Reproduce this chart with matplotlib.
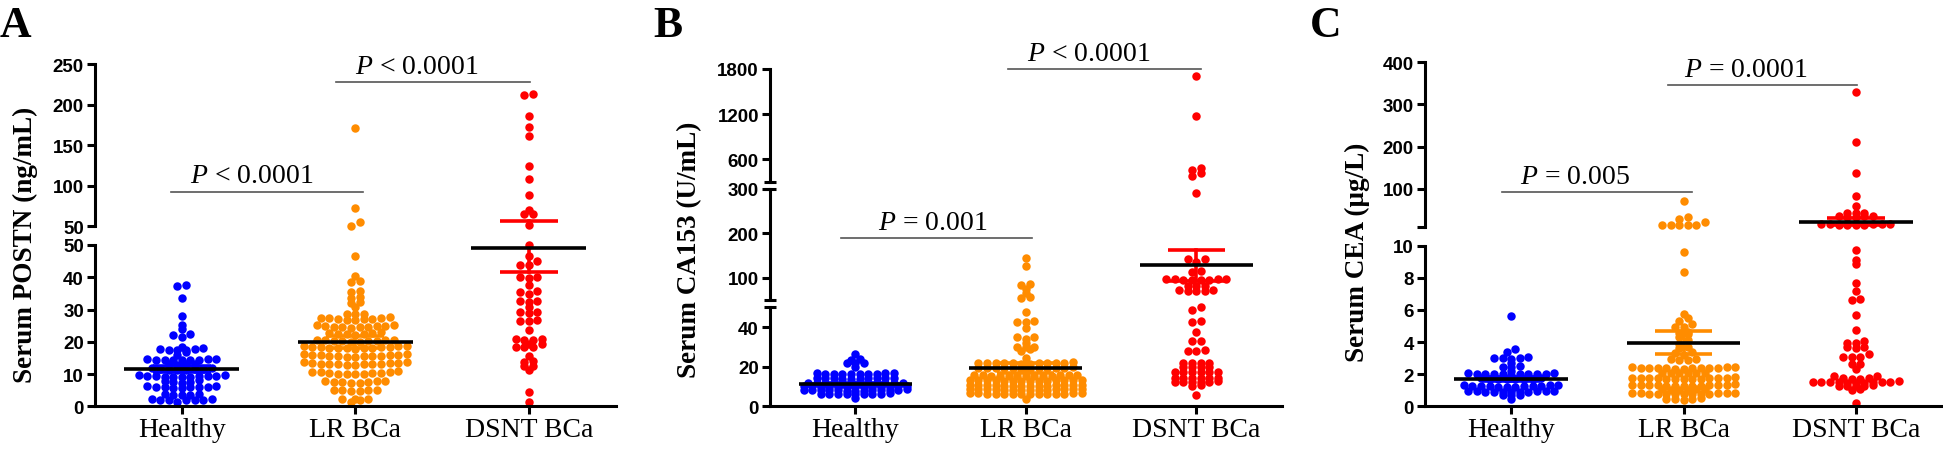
import numpy as np
import matplotlib.pyplot as plt

plt.rcParams['mathtext.fontset'] = 'custom'
plt.rcParams['mathtext.rm'] = 'Liberation Serif'
plt.rcParams['mathtext.it'] = 'Liberation Serif:italic'

groups = ['Healthy', 'LR BCa', 'DSNT BCa']
colors = ['#0000FF', '#FF8C00', '#FF0000']

# ---------------- A: serum POSTN (ng/mL) ----------------
postn_healthy = [1.2, 1.9, 2.0, 2.0, 2.1, 2.1, 2.2, 2.2,
                 3.5, 3.6, 3.6, 3.7, 3.8,
                 5.7, 5.8, 5.9, 5.9, 6.0, 6.0, 6.1, 6.2, 6.3,
                 7.3, 7.5, 7.6, 7.8, 8.0,
                 9.0, 9.1, 9.2, 9.2, 9.3, 9.3, 9.4, 9.5, 9.5, 9.6, 9.7,
                 11.2, 11.3, 11.4, 11.5, 11.6, 11.7, 11.8, 11.9,
                 12.9, 13.0, 13.1, 13.2,
                 14.2, 14.3, 14.3, 14.4, 14.4, 14.5, 14.6, 14.7, 14.8,
                 15.9, 16.7,
                 17.3, 17.5, 17.6, 17.7, 17.8, 18.1,
                 18.5, 21.6, 22.2, 22.3, 24.0, 25.2, 28.1, 33.5, 37.4, 37.6]
postn_lr = [1.2, 2.1, 2.2, 2.2, 2.3,
            4.7, 4.8, 4.9, 5.0, 5.1, 5.2,
            7.2, 7.3, 7.4, 7.5, 7.6, 7.7, 7.8, 7.9,
            9.9, 10.0, 10.0, 10.1, 10.2, 10.3, 10.4, 10.5, 10.6, 10.7, 10.8,
            12.8, 12.9, 13.0, 13.0, 13.1, 13.1, 13.2, 13.2, 13.3, 13.4, 13.5, 13.6, 13.7,
            15.3, 15.4, 15.5, 15.5, 15.6, 15.6, 15.7, 15.8, 15.8, 15.9, 16.0, 16.1, 16.2,
            17.9, 18.0, 18.1, 18.1, 18.2, 18.2, 18.3, 18.4, 18.4, 18.5, 18.6, 18.7, 18.8,
            19.9, 20.0, 20.1, 20.2, 20.3, 20.3, 20.4, 20.5, 20.6, 20.7,
            22.2, 22.3, 22.4, 22.5, 22.6, 22.8, 22.9,
            24.4, 24.5, 24.6, 24.7, 24.7, 24.8, 24.9, 25.0, 25.1, 25.2,
            26.8, 26.9, 27.0, 27.1, 27.2, 27.3, 27.4, 27.5, 27.6,
            28.5, 28.6, 28.7, 30.7, 31.9, 32.2, 33.6, 34.0, 35.3, 35.8,
            38.6, 38.7, 40.3, 46.7,
            50.8, 54.9, 72.2, 171.0]
postn_dsnt = [1.4, 4.3, 11.1, 12.6, 12.6, 13.8, 13.9, 15.7,
              18.3, 18.3, 18.4, 19.3, 19.4, 20.7, 20.7, 20.8, 20.8, 23.6,
              26.5, 26.5, 26.6, 28.8, 29.1, 29.1, 30.7, 32.2, 32.7, 32.7,
              34.8, 35.5, 35.6, 37.6, 39.7, 40.2, 40.2, 43.9, 43.9, 44.9, 46.6, 50.0,
              51.6, 65.2, 65.3, 70.5, 88.7, 108.4, 124.0, 162.0, 172.2, 186.6, 212.0, 213.4]
postn_mean = [11.6, 20.0, 49.0]
postn_sem = [0.9, 1.9, 7.3]

# ---------------- B: serum CA153 (U/mL) ----------------
ca153_healthy = [4.2,
                 6.0, 6.0, 6.1, 6.1, 6.2, 6.2, 6.3, 6.4, 6.5,
                 7.8, 7.9, 7.9, 8.0, 8.0, 8.1, 8.1, 8.2, 8.2, 8.3, 8.3, 8.4, 8.5,
                 9.6, 9.7, 9.7, 9.8, 9.8, 9.9, 9.9, 10.0, 10.0, 10.1, 10.1, 10.2, 10.2,
                 11.4, 11.5, 11.5, 11.6, 11.6, 11.7, 11.7, 11.8, 11.8, 11.9, 11.9, 12.0,
                 13.9, 14.0, 14.0, 14.1, 14.1, 14.2, 14.2, 14.3, 14.4, 14.5,
                 16.2, 16.3, 16.3, 16.4, 16.4, 16.5, 16.5, 16.6, 16.7, 16.8,
                 20.0, 21.8, 21.9, 22.0, 23.6, 23.8, 26.5]
ca153_lr = [3.7,
            6.0, 6.0, 6.1, 6.1, 6.2, 6.2, 6.3, 6.3, 6.4, 6.4, 6.5, 6.5, 6.6, 6.6,
            8.2, 8.2, 8.3, 8.3, 8.4, 8.4, 8.5, 8.5, 8.6, 8.6, 8.7, 8.7, 8.8, 8.8,
            10.3, 10.3, 10.4, 10.4, 10.5, 10.5, 10.6, 10.6, 10.7, 10.7, 10.8, 10.8, 10.9, 10.9,
            12.8, 12.8, 12.9, 12.9, 13.0, 13.0, 13.1, 13.1, 13.2, 13.2, 13.3, 13.3, 13.4, 13.4,
            15.2, 15.2, 15.3, 15.3, 15.4, 15.4, 15.5, 15.5, 15.6, 15.6, 15.7, 15.7, 15.8,
            19.0, 19.0, 19.1, 19.1, 19.2, 19.2, 19.3, 19.3, 19.4, 19.4, 19.5, 19.6,
            21.6, 21.6, 21.7, 21.7, 21.8, 21.8, 21.9, 21.9, 22.0, 22.0, 22.1, 22.2,
            24.2, 28.1, 28.9, 30.1, 30.1, 30.2, 32.0, 34.0, 34.8, 34.9,
            39.4, 42.4, 42.4, 43.2, 47.5,
            53.8, 57.5, 65.0, 74.8, 84.0, 86.0, 127.0, 144.0]
ca153_dsnt = [5.7, 10.4, 10.6,
              12.3, 12.3, 12.4, 12.4, 12.5, 12.6,
              14.2, 14.2, 14.3, 14.3, 14.4, 14.5,
              17.1, 17.2, 17.2, 17.3, 17.4, 17.5,
              19.6, 19.7, 19.8, 19.9, 21.7, 21.7, 21.8, 21.9,
              28.0, 28.1, 28.2, 33.1, 33.2, 37.4, 42.4, 43.2, 48.8, 50.0,
              70.5, 70.8, 71.0, 71.4, 71.8, 82.0, 82.2, 82.5,
              95.0, 95.3, 95.6, 96.0, 96.3, 96.6, 97.0, 97.3,
              114.0, 114.5, 136.0, 142.0, 142.5, 291.0,
              375.0, 420.0, 465.0, 490.0, 1180.0, 1711.0]
ca153_mean = [11.3, 19.2, 128.0]
ca153_sem = [0.6, 2.6, 35.0]

# ---------------- C: serum CEA (ug/L) ----------------
cea_healthy = [0.45, 0.68, 0.70, 0.72,
               0.90, 0.90, 0.91, 0.91, 0.92, 0.92, 0.93, 0.93, 0.94, 0.94, 0.95,
               1.22, 1.23, 1.23, 1.24, 1.25, 1.26, 1.27, 1.28, 1.29, 1.30, 1.31, 1.32,
               1.68, 1.69, 1.70, 1.71, 1.72, 1.73, 1.74, 1.76,
               1.98, 1.99, 2.00, 2.00, 2.01, 2.02, 2.03, 2.04, 2.04, 2.05, 2.06,
               2.22, 2.45, 2.47, 2.50, 2.70,
               2.96, 2.98, 3.00, 3.02, 3.05, 3.40, 3.57, 5.64]
cea_lr = [0.42, 0.44, 0.45, 0.47, 0.50,
          0.74, 0.75, 0.75, 0.76, 0.77, 0.77, 0.78, 0.79, 0.80, 0.81, 0.82, 0.83, 0.84,
          1.02, 1.03, 1.04, 1.05, 1.06, 1.08,
          1.26, 1.27, 1.27, 1.28, 1.29, 1.30, 1.30, 1.31, 1.32, 1.33, 1.34, 1.35, 1.36,
          1.70, 1.71, 1.72, 1.72, 1.73, 1.74, 1.74, 1.75, 1.76, 1.77, 1.78, 1.79, 1.80,
          2.05, 2.06, 2.07, 2.08, 2.09, 2.10,
          2.34, 2.35, 2.36, 2.36, 2.37, 2.38, 2.38, 2.39, 2.40, 2.41, 2.42, 2.43, 2.44,
          2.88, 2.90, 2.92, 2.95, 3.20, 3.30, 3.40, 3.60, 3.70, 3.90, 4.10,
          4.30, 4.50, 4.55, 4.60, 4.92, 4.93, 5.12, 5.29, 5.48, 5.75, 8.34, 9.59,
          13.6, 13.8, 14.0, 14.2, 14.5, 20.4, 28.3, 32.3, 71.0]
cea_dsnt = [0.19, 1.03, 1.05, 1.25, 1.26, 1.27, 1.28, 1.30,
            1.47, 1.48, 1.48, 1.49, 1.50, 1.50, 1.51, 1.52, 1.53, 1.54, 1.55,
            1.70, 1.72, 1.74, 1.76, 1.87, 1.88,
            2.32, 2.63, 2.65, 3.05, 3.06, 3.08, 3.26, 3.66, 3.67, 3.68,
            3.92, 3.93, 4.08, 4.75, 5.69, 6.64, 6.66, 7.16, 7.68, 8.86, 9.10, 9.76,
            14.0, 14.4, 14.8, 15.2, 15.6, 16.0, 16.4, 16.8, 17.4,
            33.5, 34.0, 34.5, 35.0, 35.5, 42.0, 42.5, 43.0,
            59.8, 82.0, 136.7, 211.6, 330.0]
cea_mean = [1.7, 3.95, 21.5]
cea_sem = [0.1, 0.72, 8.0]

W, H = 1943, 452
fig = plt.figure(figsize=(W / 100, H / 100), dpi=100)

panels = [
    dict(letter='A', lx=0, x0=95, x1=615.5, ylabel='Serum POSTN (ng/mL)', ylx=25, yly=245,
         data=[postn_healthy, postn_lr, postn_dsnt], mean=postn_mean, sem=postn_sem,
         segs=[((0, 50), 246, 407.3, [0, 10, 20, 30, 40, 50], None),
               ((50, 250), 65.3, 227.3, [50, 100, 150, 200, 250], None)],
         caps=False,
         sig=[(1, -0.063, 1.043, 92.7, 0.40, 104.7, '$P$ < 0.0001'),
              (1, 0.888, 2.006, 227.8, 1.354, 239.3, '$P$ < 0.0001')]),
    dict(letter='B', lx=653, x0=770, x1=1281.5, ylabel='Serum CA153 (U/mL)', ylx=690, yly=250,
         data=[ca153_healthy, ca153_lr, ca153_dsnt], mean=ca153_mean, sem=ca153_sem,
         segs=[((0, 50), 308.3, 407.3, [0, 20, 40], None),
               ((50, 300), 190, 301, [100, 200, 300], None),
               ((300, 1800), 70, 183, [600, 1200, 1800], None)],
         caps=True,
         sig=[(1, -0.084, 1.038, 190.3, 0.457, 209.9, '$P$ = 0.001'),
              (2, 0.897, 2.029, 1800, 1.367, 1919, '$P$ < 0.0001')]),
    dict(letter='C', lx=1310, x0=1425, x1=1942, ylabel='Serum CEA (μg/L)', ylx=1357, yly=252,
         data=[cea_healthy, cea_lr, cea_dsnt], mean=cea_mean, sem=cea_sem,
         segs=[((0, 10), 246.7, 407.3, [0, 2, 4, 6, 8, 10], None),
               ((10, 400), 63.3, 227.7, [10, 100, 200, 300, 400], ['', '100', '200', '300', '400'])],
         caps=False,
         sig=[(1, -0.054, 1.052, 93.0, 0.37, 113.2, '$P$ = 0.005'),
              (1, 0.908, 2.006, 346, 1.358, 367.5, '$P$ = 0.0001')]),
]


def place(axs, lims, vals, xc, h=3.5, sp=8.6):
    # prism-like scatter: group points into rows, spread each row sideways
    vals = np.asarray(vals, float)
    seg = np.array([next(i for i, (lo, hi) in enumerate(lims) if v <= hi) for v in vals])
    ypx = np.array([axs[s].transData.transform((xc, v))[1] for s, v in zip(seg, vals)])
    ux = axs[0].transData.transform((1, 0))[0] - axs[0].transData.transform((0, 0))[0]
    order = np.argsort(ypx, kind='stable')
    rows, cur, y0 = [], [], None
    for i in order:
        if y0 is None or ypx[i] - y0 >= h:
            if cur:
                rows.append(cur)
            cur, y0 = [], ypx[i]
        cur.append(i)
    rows.append(cur)
    xs = np.zeros(len(vals))
    for row in rows:
        n = len(row)
        if n % 2:
            slots = [0] + [s for k in range(1, n // 2 + 1) for s in (-k, k)]
        else:
            slots = [s for k in range(n // 2) for s in (-(k + 0.5), k + 0.5)]
        for i, s in zip(row, slots):
            xs[i] = xc + s * sp / ux
    return seg, xs


for p in panels:
    axs = []
    for k, (lim, ytop, ybot, ticks, tlabels) in enumerate(p['segs']):
        ax = fig.add_axes([p['x0'] / W, 1 - ybot / H, (p['x1'] - p['x0']) / W, (ybot - ytop) / H])
        ax.set_xlim(-0.5, 2.5)
        ax.set_ylim(*lim)
        ax.patch.set_visible(False)
        for s in ['top', 'right']:
            ax.spines[s].set_visible(False)
        ax.spines['left'].set_linewidth(2.2)
        ax.set_yticks(ticks)
        ax.set_yticklabels(tlabels if tlabels else [str(t) for t in ticks])
        ax.tick_params(axis='y', direction='out', length=6, width=2.2, pad=2)
        for lab in ax.get_yticklabels():
            lab.set_fontfamily('Liberation Sans')
            lab.set_fontweight('bold')
            lab.set_fontsize(13.5)
        if k == 0:
            ax.spines['bottom'].set_linewidth(2.2)
            ax.set_xticks([0, 1, 2])
            ax.set_xticklabels(groups, fontfamily='Liberation Serif', fontsize=20)
            ax.tick_params(axis='x', direction='out', length=6, width=2.2, pad=1.5)
        else:
            ax.spines['bottom'].set_visible(False)
            ax.set_xticks([])
        if p['caps']:
            if k > 0:
                ax.plot([0], [0], marker='_', ms=8, mew=2.2, color='k',
                        transform=ax.transAxes, clip_on=False)
            if k < len(p['segs']) - 1:
                ax.plot([0], [1], marker='_', ms=8, mew=2.2, color='k',
                        transform=ax.transAxes, clip_on=False)
        axs.append(ax)

    lims = [s[0] for s in p['segs']]
    for g, vals in enumerate(p['data']):
        seg, xs = place(axs, lims, vals, g)
        vals = np.asarray(vals, float)
        for k, ax in enumerate(axs):
            m = seg == k
            ax.scatter(xs[m], vals[m], s=37, color=colors[g], linewidths=0,
                       zorder=2, clip_on=False)
        # mean and SEM, each piece only on the segment that holds it
        mu, se = p['mean'][g], p['sem'][g]
        for (lo, hi), ax in zip(lims, axs):
            a, b = max(lo, mu - se), min(hi, mu + se)
            if a < b:
                ax.plot([g, g], [a, b], color=colors[g], lw=2.6, zorder=3, clip_on=False)
            for yc in (mu - se, mu + se):
                if lo <= yc <= hi:
                    ax.plot([g - 0.167, g + 0.167], [yc, yc], color=colors[g], lw=2.6,
                            zorder=3, solid_capstyle='butt', clip_on=False)
            if lo <= mu <= hi:
                ax.plot([g - 0.33, g + 0.33], [mu, mu], color='black', lw=2.6, zorder=4,
                        solid_capstyle='butt', clip_on=False)

    for k, xa, xb, yl, xt, yt, txt in p['sig']:
        ax = axs[k]
        ax.plot([xa, xb], [yl, yl], color='#555555', lw=1.2, clip_on=False)
        ax.text(xt, yt, txt, ha='center', va='baseline', fontsize=20,
                fontfamily='Liberation Serif', clip_on=False)

    fig.text(p['ylx'] / W, 1 - p['yly'] / H, p['ylabel'], rotation=90, ha='center', va='center',
             fontfamily='Liberation Serif', fontweight='bold', fontsize=19.5)
    fig.text(p['lx'] / W, 1 - 37 / H, p['letter'], ha='left', va='baseline',
             fontfamily='Liberation Serif', fontweight='bold', fontsize=31.5)

fig.savefig('out.png', dpi=100)
